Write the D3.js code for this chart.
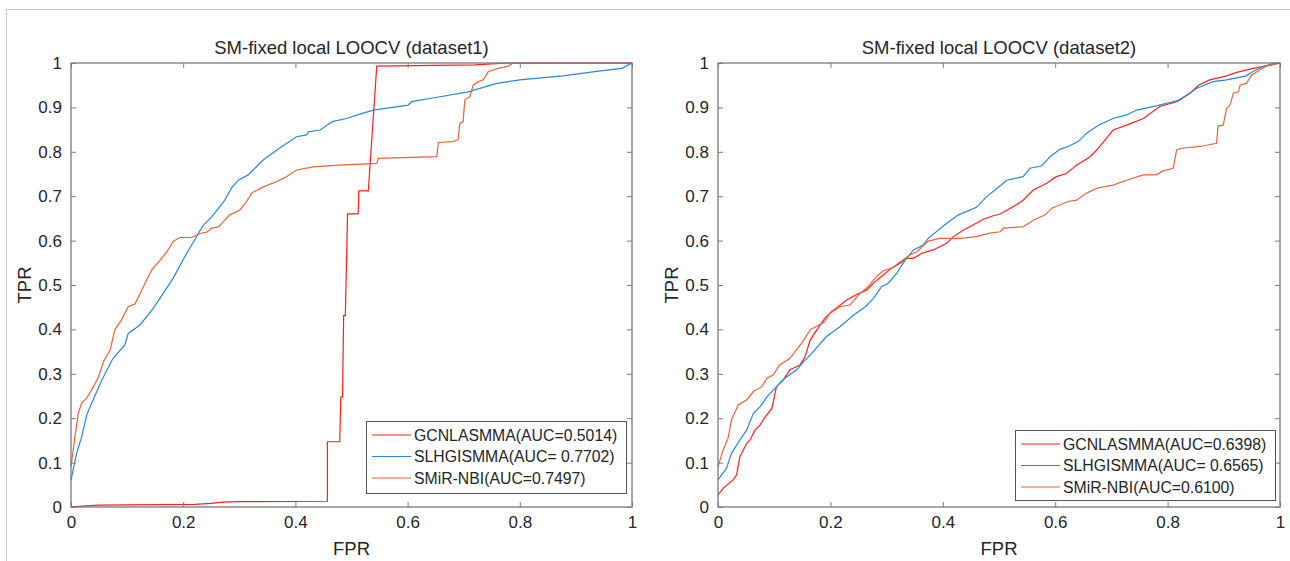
<!DOCTYPE html>
<html><head><meta charset="utf-8">
<script src="https://cdn.jsdelivr.net/npm/d3@7"></script>
<style>body{margin:0;background:#fff}svg{display:block}text{font-family:"Liberation Sans",Arial,sans-serif;fill:#262626}</style>
</head><body><svg id="c" width="1290" height="561"></svg>
<script>
const xTicks=[0,0.2,0.4,0.6,0.8,1];
const yTicks=[0,0.1,0.2,0.3,0.4,0.5,0.6,0.7,0.8,0.9,1];
const titles=["SM-fixed local LOOCV (dataset1)","SM-fixed local LOOCV (dataset2)"];
const methods=["GCNLASMMA","SLHGISMMA","SMiR-NBI"];
const legend1=["GCNLASMMA(AUC=0.5014)","SLHGISMMA(AUC= 0.7702)","SMiR-NBI(AUC=0.7497)"];
const legend2=["GCNLASMMA(AUC=0.6398)","SLHGISMMA(AUC= 0.6565)","SMiR-NBI(AUC=0.6100)"];
const colors=["#ff2020","#2b86d6","#e8643a"];

// dataset1
const d1_gcn=[[0,0],[0.02,0.002],[0.05,0.004],[0.1,0.005],[0.22,0.006],[0.25,0.008],[0.27,0.011],[0.3,0.012],[0.457,0.013],[0.457,0.147],[0.479,0.147],[0.481,0.248],[0.484,0.248],[0.486,0.431],[0.489,0.431],[0.493,0.66],[0.512,0.66],[0.513,0.712],[0.53,0.712],[0.545,0.993],[0.72,0.996],[0.78,1],[1,1]];
const d1_slh=[[0,0.061],[0.010,0.121],[0.019,0.158],[0.028,0.207],[0.037,0.234],[0.055,0.286],[0.075,0.335],[0.096,0.365],[0.102,0.391],[0.123,0.410],[0.147,0.448],[0.182,0.515],[0.203,0.564],[0.227,0.616],[0.236,0.635],[0.254,0.658],[0.274,0.691],[0.286,0.718],[0.298,0.736],[0.316,0.748],[0.343,0.782],[0.376,0.812],[0.402,0.834],[0.420,0.838],[0.423,0.845],[0.444,0.849],[0.466,0.868],[0.491,0.875],[0.515,0.885],[0.539,0.894],[0.601,0.905],[0.607,0.913],[0.658,0.924],[0.708,0.935],[0.759,0.954],[0.800,0.962],[0.877,0.971],[0.937,0.981],[0.982,0.988],[1,1]];
const d1_nbi=[[0,0.091],[0.007,0.158],[0.013,0.211],[0.019,0.234],[0.028,0.245],[0.040,0.271],[0.049,0.293],[0.058,0.327],[0.070,0.354],[0.078,0.399],[0.090,0.421],[0.102,0.451],[0.114,0.457],[0.132,0.504],[0.144,0.534],[0.159,0.556],[0.171,0.575],[0.182,0.598],[0.194,0.607],[0.215,0.607],[0.230,0.616],[0.242,0.619],[0.251,0.628],[0.263,0.631],[0.274,0.646],[0.283,0.658],[0.301,0.669],[0.313,0.688],[0.322,0.707],[0.343,0.721],[0.367,0.733],[0.384,0.744],[0.402,0.759],[0.432,0.766],[0.479,0.770],[0.545,0.774],[0.548,0.785],[0.652,0.789],[0.655,0.821],[0.681,0.823],[0.690,0.827],[0.693,0.864],[0.699,0.868],[0.702,0.917],[0.711,0.924],[0.717,0.950],[0.726,0.958],[0.735,0.962],[0.744,0.981],[0.762,0.988],[0.780,0.993],[0.786,0.999],[1,1]];

// dataset2
const d2_gcn=[[0,0.027],[0.009,0.042],[0.027,0.061],[0.033,0.072],[0.039,0.113],[0.051,0.143],[0.057,0.151],[0.066,0.173],[0.075,0.185],[0.084,0.203],[0.096,0.222],[0.104,0.271],[0.116,0.286],[0.128,0.309],[0.146,0.320],[0.155,0.339],[0.164,0.376],[0.176,0.399],[0.190,0.425],[0.202,0.440],[0.214,0.451],[0.229,0.466],[0.244,0.477],[0.265,0.489],[0.279,0.507],[0.291,0.519],[0.309,0.538],[0.324,0.549],[0.336,0.560],[0.348,0.560],[0.362,0.571],[0.383,0.579],[0.407,0.594],[0.419,0.609],[0.437,0.624],[0.454,0.635],[0.472,0.648],[0.490,0.656],[0.502,0.660],[0.525,0.676],[0.543,0.691],[0.561,0.714],[0.585,0.729],[0.602,0.744],[0.620,0.751],[0.638,0.770],[0.662,0.789],[0.674,0.804],[0.689,0.827],[0.703,0.849],[0.727,0.860],[0.757,0.875],[0.786,0.902],[0.816,0.913],[0.840,0.932],[0.855,0.950],[0.875,0.962],[0.905,0.971],[0.923,0.979],[0.952,0.988],[0.982,0.995],[1,1]];
const d2_slh=[[0,0.061],[0.015,0.087],[0.024,0.121],[0.039,0.151],[0.051,0.173],[0.063,0.211],[0.075,0.226],[0.087,0.248],[0.110,0.279],[0.119,0.290],[0.140,0.309],[0.152,0.327],[0.164,0.342],[0.193,0.384],[0.217,0.406],[0.241,0.432],[0.262,0.451],[0.277,0.470],[0.291,0.496],[0.303,0.504],[0.318,0.526],[0.333,0.556],[0.348,0.579],[0.365,0.590],[0.374,0.605],[0.407,0.639],[0.428,0.658],[0.460,0.675],[0.478,0.699],[0.493,0.714],[0.514,0.736],[0.543,0.744],[0.555,0.763],[0.576,0.768],[0.591,0.789],[0.609,0.806],[0.623,0.812],[0.641,0.823],[0.656,0.842],[0.677,0.860],[0.703,0.875],[0.727,0.883],[0.745,0.894],[0.778,0.903],[0.804,0.911],[0.822,0.917],[0.837,0.930],[0.852,0.943],[0.881,0.958],[0.905,0.962],[0.940,0.971],[0.952,0.981],[0.970,0.992],[0.988,0.999],[1,1]];
const d2_nbi=[[0,0.091],[0.009,0.128],[0.018,0.155],[0.024,0.196],[0.036,0.230],[0.051,0.241],[0.063,0.260],[0.078,0.271],[0.087,0.290],[0.098,0.297],[0.110,0.320],[0.128,0.335],[0.149,0.369],[0.164,0.399],[0.190,0.417],[0.199,0.436],[0.217,0.451],[0.235,0.455],[0.253,0.481],[0.267,0.496],[0.282,0.519],[0.294,0.532],[0.309,0.538],[0.324,0.552],[0.342,0.568],[0.354,0.575],[0.374,0.599],[0.395,0.605],[0.431,0.605],[0.460,0.609],[0.484,0.617],[0.502,0.620],[0.508,0.628],[0.543,0.631],[0.561,0.646],[0.582,0.658],[0.594,0.673],[0.623,0.688],[0.638,0.691],[0.656,0.707],[0.674,0.718],[0.703,0.725],[0.727,0.736],[0.757,0.748],[0.780,0.748],[0.792,0.757],[0.810,0.763],[0.816,0.804],[0.825,0.808],[0.858,0.812],[0.887,0.819],[0.890,0.858],[0.899,0.860],[0.905,0.898],[0.911,0.905],[0.917,0.932],[0.926,0.935],[0.929,0.950],[0.940,0.954],[0.950,0.973],[0.964,0.984],[0.976,0.993],[1,1]];

const svg=d3.select("#c");
svg.append("rect").attr("x",6.5).attr("y",9.5).attr("width",1300).attr("height",600).attr("fill","none").attr("stroke","#c8c8c8");

const panels=[
 {x0:71,x1:632,title:titles[0],series:[d1_gcn,d1_slh,d1_nbi],legend:legend1,lg:{x:366,y:421,w:260,h:72}},
 {x0:718,x1:1280,title:titles[1],series:[d2_gcn,d2_slh,d2_nbi],legend:legend2,lg:{x:1015,y:430,w:260,h:70}}
];
const yTop=63,yBot=507;
panels.forEach(p=>{
 const g=svg.append("g");
 const x=d3.scaleLinear().domain([0,1]).range([p.x0,p.x1]);
 const y=d3.scaleLinear().domain([0,1]).range([yBot,yTop]);
 const line=d3.line().x(d=>x(d[0])).y(d=>y(d[1]));
 p.series.forEach((s,i)=>{
  g.append("path").datum(s).attr("d",line).attr("fill","none").attr("stroke",colors[i]).attr("stroke-width",1.2);
 });
 const axStyle=sel=>{sel.select(".domain").remove();sel.selectAll(".tick line").attr("stroke","#7a7a7a");sel.selectAll("text").attr("fill","#262626").style("font-size","17px").style("font-family","Liberation Sans, Arial, sans-serif");};
 g.append("g").attr("transform",`translate(0,${yBot})`).call(d3.axisBottom(x).tickValues(xTicks).tickFormat(d3.format("~g")).tickSize(-5).tickPadding(9)).call(axStyle);
 g.append("g").attr("transform",`translate(0,${yTop})`).call(d3.axisTop(x).tickValues(xTicks).tickFormat("").tickSize(-5)).call(axStyle);
 g.append("g").attr("transform",`translate(${p.x0},0)`).call(d3.axisLeft(y).tickValues(yTicks).tickFormat(d3.format("~g")).tickSize(-5).tickPadding(9)).call(axStyle);
 g.append("g").attr("transform",`translate(${p.x1},0)`).call(d3.axisRight(y).tickValues(yTicks).tickFormat("").tickSize(-5)).call(axStyle);
 g.append("rect").attr("x",p.x0).attr("y",yTop).attr("width",p.x1-p.x0).attr("height",yBot-yTop).attr("fill","none").attr("stroke","#7a7a7a").attr("stroke-width",1.3);
 g.append("text").attr("x",(p.x0+p.x1)/2).attr("y",54).attr("text-anchor","middle").style("font-size","18.5px").text(p.title);
 g.append("text").attr("x",(p.x0+p.x1)/2).attr("y",555).attr("text-anchor","middle").style("font-size","18.5px").text("FPR");
 g.append("text").attr("transform",`translate(${p.x0-40},${(yTop+yBot)/2}) rotate(-90)`).attr("text-anchor","middle").style("font-size","18.5px").text("TPR");
 const L=p.lg;
 g.append("rect").attr("x",L.x+0.5).attr("y",L.y+0.5).attr("width",L.w).attr("height",L.h).attr("fill","#fff").attr("stroke","#555").attr("stroke-width",1);
 p.legend.forEach((t,i)=>{
  const yy=L.y+14+i*21.5;
  g.append("line").attr("x1",L.x+6).attr("x2",L.x+45).attr("y1",yy).attr("y2",yy).attr("stroke",colors[i]).attr("stroke-width",1.2);
  g.append("text").attr("x",L.x+48).attr("y",yy+5.5).style("font-size","15.8px").text(t);
 });
});
</script></body></html>
